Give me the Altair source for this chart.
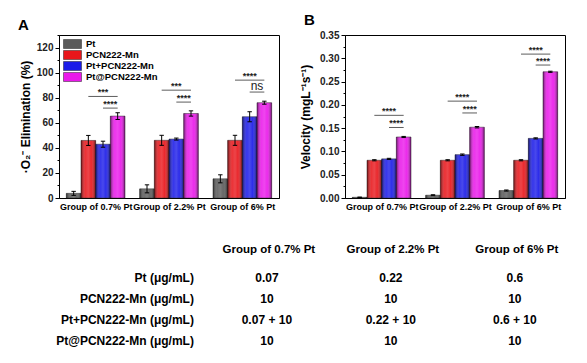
import altair as alt
import pandas as pd

groups = ["Group of 0.7% Pt", "Group of 2.2% Pt", "Group of 6% Pt"]
series = ["Pt", "PCN222-Mn", "Pt+PCN222-Mn", "Pt@PCN222-Mn"]
colors = ["#5a5a5a", "#e8161b", "#1b1be8", "#ea18ea"]

# Panel A: superoxide elimination (%)
a_values = [[3.7, 45.9, 42.9, 65.3], [7.3, 46.0, 47.0, 67.4], [15.3, 46.0, 64.8, 76.0]]
a_errors = [[1.6, 4.0, 2.4, 2.7], [3.2, 4.0, 0.8, 2.1], [3.2, 4.0, 4.0, 1.2]]
# (group index, from series index, to series index, level, label)
a_brackets = [(0, 1, 3, 81.0, "***"), (0, 2, 3, 71.7, "****"),
              (1, 1, 3, 86.0, "***"), (1, 2, 3, 76.5, "****"),
              (2, 1, 3, 94.0, "****"), (2, 2, 3, 84.5, "ns")]

# Panel B: velocity
b_values = [[0.0015, 0.081, 0.084, 0.131], [0.006, 0.081, 0.093, 0.152], [0.016, 0.081, 0.128, 0.271]]
b_errors = [[0.0005, 0.0012, 0.0012, 0.0012], [0.001, 0.0012, 0.0015, 0.0015], [0.0012, 0.0012, 0.0012, 0.0012]]
b_brackets = [(0, 1, 3, 0.1775, "****"), (0, 2, 3, 0.1514, "****"),
              (1, 1, 3, 0.208, "****"), (1, 2, 3, 0.1826, "****"),
              (2, 1, 3, 0.309, "****"), (2, 2, 3, 0.2855, "****")]

# Table
table_rows = ["Pt (μg/mL)", "PCN222-Mn (μg/mL)", "Pt+PCN222-Mn (μg/mL)", "Pt@PCN222-Mn (μg/mL)"]
table_values = [["0.07", "0.22", "0.6"], ["10", "10", "10"],
                ["0.07 + 10", "0.22 + 10", "0.6 + 10"], ["10", "10", "10"]]

FONT = "Liberation Sans"
STEP = 0.2  # bar step within a group (x units)
HALF = 0.1

gradient = alt.LinearGradient(
    gradient="linear", x1=0, x2=1, y1=0, y2=0,
    stops=[alt.GradientStop(offset=0, color="rgba(0,0,0,0.55)"),
           alt.GradientStop(offset=0.3, color="rgba(255,255,255,0.12)"),
           alt.GradientStop(offset=0.5, color="rgba(255,255,255,0.2)"),
           alt.GradientStop(offset=0.7, color="rgba(255,255,255,0.08)"),
           alt.GradientStop(offset=1, color="rgba(0,0,0,0.55)")])

label_expr = "[" + ",".join("'%s'" % g for g in groups) + "][datum.value]"


def panel(values, errors, brackets, ytitle, ydomain, yvalues, yminor, yformat, letter, title_x):
    rows = []
    for gi, g in enumerate(groups):
        for si, s in enumerate(series):
            rows.append(dict(group=g, gi=gi, series=s, si=si,
                             value=values[gi][si], err=errors[gi][si]))
    df = pd.DataFrame(rows)
    bdf = pd.DataFrame(brackets, columns=["gi", "s1", "s2", "level", "label"])

    xscale = alt.Scale(domain=[-0.5, 2.5], nice=False, zero=False)
    yscale = alt.Scale(domain=ydomain, nice=False)
    xaxis = alt.Axis(values=[0, 1, 2], labelExpr=label_expr, title=None, grid=False,
                     ticks=False, labelPadding=4, labelFontSize=9, labelFontWeight="bold",
                     labelFont=FONT, labelColor="black", domainColor="black")
    yaxis = alt.Axis(values=yvalues, format=yformat, title=ytitle, grid=False, orient="left",
                     tickSize=4, tickColor="black", domainColor="black", labelOverlap=False,
                     labelFontSize=10, labelFontWeight="bold", labelFont=FONT,
                     labelColor="#222", titleFontSize=12, titleFontWeight="bold",
                     titleFont=FONT, titleColor="black", titleX=title_x,
                     titleBaseline="bottom")
    minor_axis = alt.Axis(values=yminor, labels=False, title=None, grid=False, orient="left",
                          tickSize=2, tickColor="black", domain=False)

    base = alt.Chart(df).transform_calculate(
        pos=f"datum.gi + (datum.si - 1.5) * {STEP}"
    ).transform_calculate(
        x0=f"datum.pos - {HALF}", x1=f"datum.pos + {HALF}",
        lo="datum.value - datum.err", hi="datum.value + datum.err",
        c0="datum.pos - 0.03", c1="datum.pos + 0.03")

    bars = base.mark_bar(stroke="#222", strokeWidth=0.5).encode(
        x=alt.X("x0:Q", scale=xscale, axis=xaxis),
        x2="x1:Q",
        y=alt.Y("value:Q", scale=yscale, axis=yaxis),
        y2=alt.datum(0),
        color=alt.Color("series:N", scale=alt.Scale(domain=series, range=colors),
                        legend=alt.Legend(orient="none", legendX=8.5, legendY=4, title=None,
                                          symbolType="M-2,-1H2V1H-2Z", symbolSize=81,
                                          symbolStrokeColor="#222", symbolStrokeWidth=0.5,
                                          labelFontSize=9.5, labelFontWeight="bold",
                                          labelFont=FONT, labelColor="black",
                                          labelOffset=8.5, rowPadding=-3.5, padding=0)))
    shade = base.mark_bar(fill=gradient, strokeWidth=0).encode(
        x="x0:Q", x2="x1:Q", y=alt.Y("value:Q", axis=None), y2=alt.datum(0))
    err = base.mark_rule(color="black", strokeWidth=1).encode(
        x="pos:Q", y=alt.Y("lo:Q", axis=minor_axis), y2="hi:Q")
    cap_hi = base.mark_rule(color="black", strokeWidth=1).encode(
        x="c0:Q", x2="c1:Q", y=alt.Y("hi:Q", axis=None))
    cap_lo = base.mark_rule(color="black", strokeWidth=1).encode(
        x="c0:Q", x2="c1:Q", y=alt.Y("lo:Q", axis=None))

    bbase = alt.Chart(bdf).transform_calculate(
        xa=f"datum.gi + (datum.s1 - 1.5) * {STEP}",
        xb=f"datum.gi + (datum.s2 - 1.5) * {STEP}"
    ).transform_calculate(xm="(datum.xa + datum.xb) / 2")
    brule = bbase.mark_rule(color="#333", strokeWidth=0.8).encode(
        x="xa:Q", x2="xb:Q", y=alt.Y("level:Q", axis=None))
    stars = bbase.transform_filter("datum.label != 'ns'").mark_text(
        font=FONT, fontSize=9, fontWeight="bold", baseline="alphabetic", dy=-1, color="#222"
    ).encode(x="xm:Q", y=alt.Y("level:Q", axis=None), text="label:N")
    ns = bbase.transform_filter("datum.label == 'ns'").mark_text(
        font=FONT, fontSize=12, baseline="alphabetic", dy=-2, color="#222"
    ).encode(x="xm:Q", y=alt.Y("level:Q", axis=None), text="label:N")

    return alt.layer(bars, shade, err, cap_hi, cap_lo, brule, stars, ns).resolve_axis(
        y="independent"
    ).properties(
        width=220, height=163,
        view=alt.ViewBackground(stroke="black", strokeWidth=1),
        title=alt.TitleParams(letter, anchor="start", frame="group", dx=-41, offset=2,
                              fontSize=15, fontWeight="bold", font=FONT, color="black"))


chart_a = panel(a_values, a_errors, a_brackets, "·O₂⁻ Elimination (%)", [0, 130],
                [0, 20, 40, 60, 80, 100, 120], [10, 30, 50, 70, 90, 110, 130], "d", "A", -27)
chart_b = panel(b_values, b_errors, b_brackets, "Velocity (mgL⁻¹s⁻¹)", [0, 0.35],
                [0, 0.05, 0.1, 0.15, 0.2, 0.25, 0.3, 0.35],
                [0.025, 0.075, 0.125, 0.175, 0.225, 0.275, 0.325], ".2f", "B", -33)

trows = []
for gi, g in enumerate(groups):
    trows.append(dict(ci=gi, row="header", text=g, kind="header"))
for ri, r in enumerate(table_rows):
    trows.append(dict(ci=-1, row=r, text=r, kind="label"))
    for gi, g in enumerate(groups):
        trows.append(dict(ci=gi, row=r, text=table_values[ri][gi], kind="value"))
tdf = pd.DataFrame(trows)

tx = alt.X("ci:Q", scale=alt.Scale(domain=[-1.677, 2.3], nice=False, zero=False), axis=None)
ty = alt.Y("row:N", scale=alt.Scale(type="point", domain=["header"] + table_rows, padding=0), axis=None)
tbase = alt.Chart(tdf)
t_header = tbase.transform_filter("datum.kind == 'header'").mark_text(
    font=FONT, fontSize=11.5, fontWeight="bold", baseline="middle", dy=-7, dx=2,
    color="black").encode(x=tx, y=ty, text="text:N")
t_label = tbase.transform_filter("datum.kind == 'label'").mark_text(
    font=FONT, fontSize=12, fontWeight="bold", align="right", baseline="middle", dx=51,
    color="black").encode(x=tx, y=ty, text="text:N")
t_value = tbase.transform_filter("datum.kind == 'value'").mark_text(
    font=FONT, fontSize=12, fontWeight="bold", baseline="middle", color="black").encode(
    x=tx, y=ty, text="text:N")
table = alt.layer(t_header, t_label, t_value).properties(
    width=493, height=84, view=alt.ViewBackground(stroke="transparent", strokeWidth=0))

top = alt.hconcat(chart_a, chart_b, spacing=66, bounds="flush")
chart = alt.vconcat(top, table, spacing=221.6, bounds="flush").properties(
    padding={"left": 9, "top": 4, "right": 5, "bottom": 5}
).configure_view(strokeWidth=0).configure(background="white")

chart.save("out.html", embed_options={"renderer": "svg", "actions": False})
